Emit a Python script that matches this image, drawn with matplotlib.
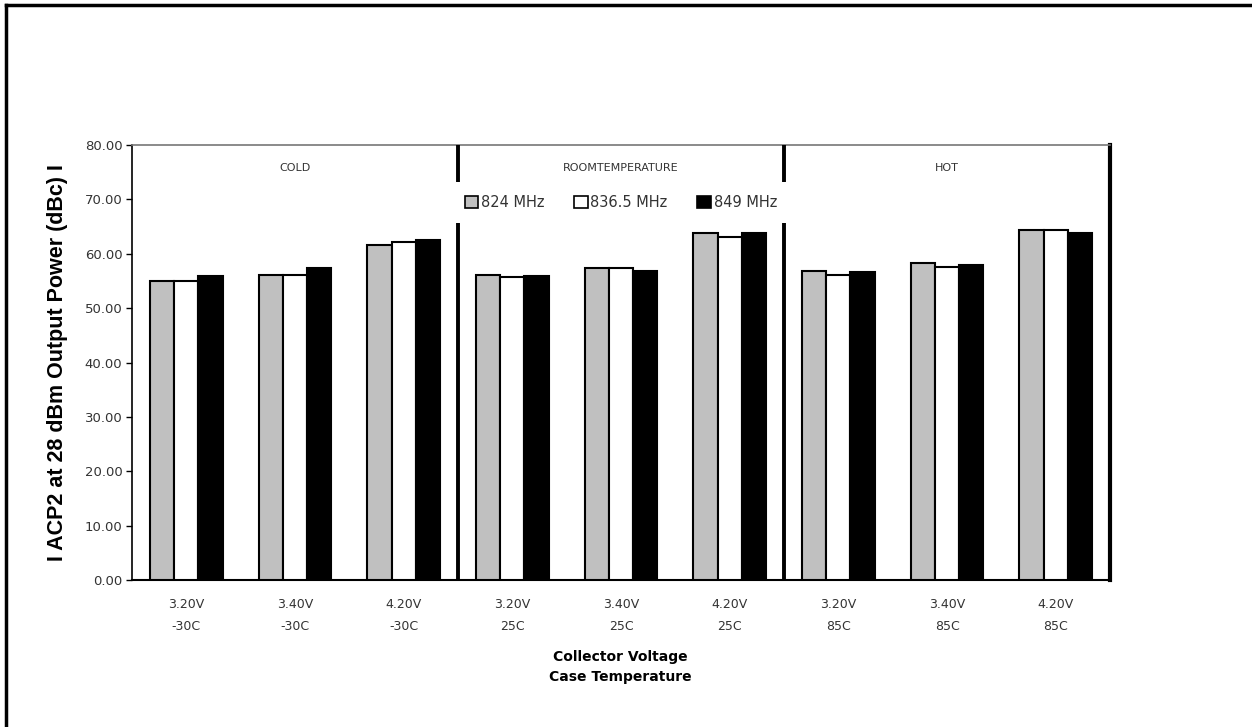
import matplotlib
matplotlib.use("Agg")
import matplotlib.pyplot as plt
from matplotlib.lines import Line2D
from matplotlib.patches import Patch
import numpy as np

# data
voltages = ["3.20V", "3.40V", "4.20V"] * 3
temps = ["-30C"] * 3 + ["25C"] * 3 + ["85C"] * 3
sections = ["COLD", "ROOMTEMPERATURE", "HOT"]
series_names = ["824 MHz", "836.5 MHz", "849 MHz"]
acp_824 = [55.0, 56.1, 61.7, 56.1, 57.3, 63.8, 56.9, 58.3, 64.3]
acp_836 = [55.0, 56.1, 62.1, 55.8, 57.3, 63.1, 56.1, 57.6, 64.3]
acp_849 = [55.9, 57.4, 62.5, 55.9, 56.9, 63.9, 56.6, 58.0, 63.9]
colors = ["#c0c0c0", "#ffffff", "#000000"]

W, H = 1252, 727
fig = plt.figure(figsize=(W / 100, H / 100), dpi=100)
ax = fig.add_axes([132 / W, 1 - 580 / H, (1110 - 132) / W, (580 - 145) / H])

x = np.arange(len(voltages))
bw = 0.222
for i, (vals, c) in enumerate(zip([acp_824, acp_836, acp_849], colors)):
    ax.bar(x + (i - 1) * bw, vals, width=bw, color=c, edgecolor="black",
           linewidth=1.5, zorder=3)

# section dividers
for xv in [2.5, 5.5]:
    ax.axvline(xv, color="black", lw=2.8, zorder=4)

ax.set_xlim(-0.5, 8.5)
ax.set_ylim(0, 80)
ax.set_yticks(np.arange(0, 81, 10))
ax.set_yticklabels(["%.2f" % v for v in np.arange(0, 81, 10)])
ax.set_xticks(x)
ax.set_xticklabels([v + "\n" + t for v, t in zip(voltages, temps)], linespacing=1.9)
ax.tick_params(axis="x", length=0, pad=13, labelsize=9, labelcolor="#333333")
ax.tick_params(axis="y", length=4, width=1, direction="out", labelsize=9.5,
               labelcolor="#333333", pad=3)

ax.spines["top"].set_color("#777777")
ax.spines["top"].set_linewidth(1.2)
ax.spines["right"].set_linewidth(3)
ax.spines["left"].set_linewidth(1.2)
ax.spines["bottom"].set_linewidth(1.5)

for k, name in enumerate(sections):
    ax.text(3 * k + 1, 75.7, name, ha="center", va="center", fontsize=8,
            color="#333333")

handles = [Patch(facecolor=c, edgecolor="black", linewidth=1.2) for c in colors]
leg = ax.legend(handles, series_names, ncol=3, loc="center", mode="expand",
                bbox_to_anchor=(452 / W, 1 - 226 / H, (790 - 452) / W, 47 / H),
                bbox_transform=fig.transFigure, frameon=True, fancybox=False,
                edgecolor="none", facecolor="white", framealpha=1,
                fontsize=10.5, handlelength=0.9, handleheight=0.9,
                handletextpad=0.2, borderpad=0.9, borderaxespad=0)
for t in leg.get_texts():
    t.set_color("#333333")
leg.set_zorder(6)

ax.set_ylabel("I ACP2 at 28 dBm Output Power (dBc) I", fontsize=15.5,
              fontweight="bold", family="Liberation Sans", labelpad=12)
fig.text(620 / W, 1 - 667 / H, "Collector Voltage\nCase Temperature",
         ha="center", va="center", fontsize=10, fontweight="bold",
         linespacing=1.6)

# outer frame (top and left edges only visible)
fig.add_artist(Line2D([6 / W, 1], [1 - 5 / H, 1 - 5 / H], color="black", lw=2.5))
fig.add_artist(Line2D([6 / W, 6 / W], [0, 1 - 5 / H], color="black", lw=2.5))

fig.savefig("out.png", dpi=100)
